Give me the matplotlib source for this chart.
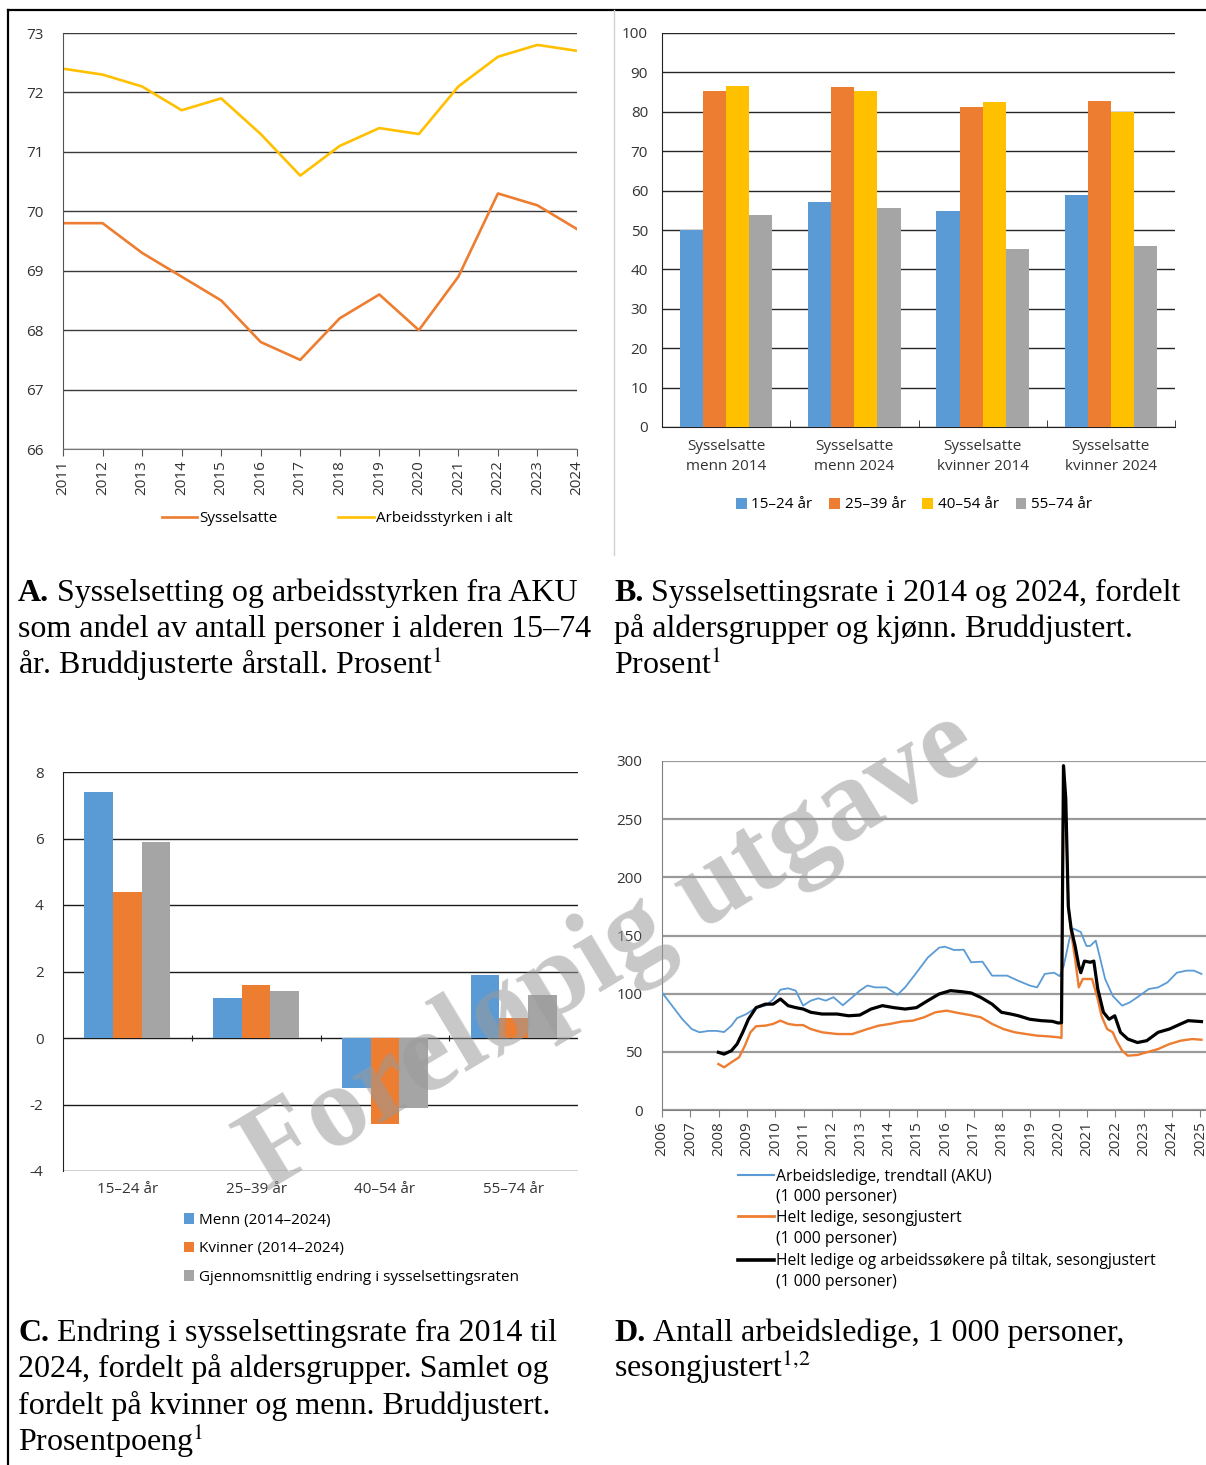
import matplotlib
matplotlib.use('Agg')
import matplotlib.pyplot as plt
from matplotlib.lines import Line2D
import numpy as np

W, H = 1206, 1465

# ---- panel A: andel av befolkningen 15-74 aar ----
years_a = list(range(2011, 2025))
sysselsatte = [69.8, 69.8, 69.3, 68.9, 68.5, 67.8, 67.5, 68.2, 68.6, 68.0, 68.9, 70.3, 70.1, 69.7]
arbeidsstyrken = [72.4, 72.3, 72.1, 71.7, 71.9, 71.3, 70.6, 71.1, 71.4, 71.3, 72.1, 72.6, 72.8, 72.7]

# ---- panel B: sysselsettingsrate etter alder ----
groups_b = ['Sysselsatte\nmenn 2014', 'Sysselsatte\nmenn 2024',
            'Sysselsatte\nkvinner 2014', 'Sysselsatte\nkvinner 2024']
age_groups = ['15–24 år', '25–39 år', '40–54 år', '55–74 år']
rate_15_24 = [50.0, 57.2, 54.7, 59.0]
rate_25_39 = [85.3, 86.4, 81.2, 82.8]
rate_40_54 = [86.6, 85.2, 82.6, 80.0]
rate_55_74 = [53.8, 55.6, 45.1, 45.9]

# ---- panel C: endring 2014-2024, prosentpoeng ----
endring_menn = [7.4, 1.2, -1.5, 1.9]
endring_kvinner = [4.4, 1.6, -2.6, 0.6]
endring_snitt = [5.9, 1.4, -2.1, 1.3]

# ---- panel D: arbeidsledige, 1 000 personer ----
aku_years = [2006.0, 2006.72, 2007.05, 2007.32, 2007.65, 2007.92, 2008.19, 2008.45, 2008.65, 2008.98,
             2009.32, 2009.65, 2009.92, 2010.18, 2010.45, 2010.72, 2010.98, 2011.25, 2011.52, 2011.78,
             2012.05, 2012.38, 2012.72, 2012.98, 2013.25, 2013.52, 2013.91, 2014.31, 2014.58, 2014.98,
             2015.38, 2015.78, 2015.98, 2016.31, 2016.65, 2016.91, 2017.31, 2017.65, 2018.18, 2018.58,
             2018.98, 2019.24, 2019.51, 2019.84, 2020.04, 2020.18, 2020.38, 2020.51, 2020.78, 2020.98,
             2021.11, 2021.31, 2021.44, 2021.64, 2021.91, 2022.24, 2022.51, 2022.84, 2023.18, 2023.51,
             2023.84, 2024.17, 2024.51, 2024.77, 2025.04]
aku_vals = [101, 78, 69.6, 66.8, 68, 68, 67, 72.5, 79, 82.5,
            88, 89.7, 95, 103.4, 104.6, 102.6, 89.7, 94, 96, 94,
            97, 90, 97, 102.6, 107, 105.4, 105.4, 99, 105.4, 118,
            131, 139.5, 140.4, 137.5, 137.8, 127, 127.5, 115.5, 115.5, 111,
            107, 105.4, 117, 118, 115, 124, 147, 156, 153, 141,
            141, 145.6, 132.7, 112.6, 98, 89.7, 92.5, 98, 104, 105.4,
            109.7, 118, 119.8, 119.8, 117]

helt_years = [2007.99, 2008.19, 2008.45, 2008.72, 2008.92, 2009.12, 2009.32, 2009.65, 2009.92, 2010.18,
              2010.45, 2010.72, 2010.98, 2011.25, 2011.65, 2012.18, 2012.72, 2013.25, 2013.65, 2014.05,
              2014.45, 2014.85, 2015.25, 2015.65, 2016.05, 2016.45, 2016.85, 2017.25, 2017.65, 2018.05,
              2018.45, 2018.85, 2019.24, 2019.64, 2019.98, 2020.1, 2020.17, 2020.25, 2020.34, 2020.44,
              2020.58, 2020.71, 2020.85, 2021.18, 2021.38, 2021.51, 2021.71, 2021.91, 2022.04, 2022.24,
              2022.44, 2022.78, 2023.11, 2023.51, 2023.91, 2024.31, 2024.71, 2025.04]
helt_vals = [39.5, 36.7, 41, 45.3, 55, 66.8, 72, 72.5, 74, 76.8,
             74, 73, 73, 69.6, 66.8, 65.3, 65.3, 69.6, 72.5, 74,
             76, 76.8, 79.7, 84, 85.4, 83.4, 81.7, 79.7, 74, 69.6,
             66.8, 65.3, 63.9, 63.3, 62.5, 62, 290, 262, 175, 152.7,
             130, 105.4, 112.6, 112.6, 95.4, 81, 69.6, 66.8, 59.6, 51,
             46.7, 47.3, 49.6, 52.4, 56.7, 59.6, 61, 60.4]

tiltak_years = [2007.99, 2008.19, 2008.45, 2008.65, 2008.85, 2009.05, 2009.32, 2009.65, 2009.92, 2010.18,
                2010.45, 2010.72, 2010.98, 2011.25, 2011.65, 2012.18, 2012.58, 2012.98, 2013.38, 2013.78,
                2014.18, 2014.58, 2014.98, 2015.38, 2015.78, 2016.18, 2016.58, 2016.91, 2017.25, 2017.65,
                2017.98, 2018.31, 2018.58, 2018.98, 2019.38, 2019.78, 2019.98, 2020.1, 2020.17, 2020.25,
                2020.34, 2020.44, 2020.58, 2020.71, 2020.78, 2020.91, 2021.11, 2021.24, 2021.38, 2021.58,
                2021.78, 2021.98, 2022.18, 2022.44, 2022.78, 2023.11, 2023.51, 2023.91, 2024.31, 2024.57,
                2025.04]
tiltak_vals = [49.6, 48, 51, 56.7, 66.8, 78, 88, 91, 91, 95.4,
               89.7, 88, 86.8, 84, 82.5, 82.5, 81, 81.6, 86.8, 89.7,
               88, 86.8, 88, 94, 99.7, 102.6, 101.7, 100.6, 96.8, 91,
               84, 82.5, 81, 78, 76.8, 76.2, 74.8, 75, 296, 268,
               175, 156, 141, 124, 118, 128, 127, 128, 104, 84,
               78, 81, 66.8, 61, 58, 59.6, 66.8, 69.6, 74, 76.8,
               76]

BLUE, ORANGE, YELLOW, GREY = '#5B9BD5', '#ED7D31', '#FFC000', '#A5A5A5'
TXT = '#333333'

plt.rcParams['font.family'] = ['Open Sans', 'DejaVu Sans']
plt.rcParams['font.size'] = 11
plt.rcParams['axes.unicode_minus'] = False
plt.rcParams['mathtext.fontset'] = 'stix'
plt.rcParams['xtick.color'] = TXT
plt.rcParams['ytick.color'] = TXT

fig = plt.figure(figsize=(W / 100, H / 100), dpi=100)


def box(x0, y0, x1, y1):
    return [x0 / W, 1 - y1 / H, (x1 - x0) / W, (y1 - y0) / H]


def figxy(x, y):
    return (x / W, 1 - y / H)


# ---------------- A ----------------
axA = fig.add_axes(box(63, 33, 577, 449))
axA.plot(years_a, sysselsatte, color=ORANGE, lw=1.9, label='Sysselsatte')
axA.plot(years_a, arbeidsstyrken, color=YELLOW, lw=1.9, label='Arbeidsstyrken i alt')
axA.set_xlim(2011, 2024)
axA.set_ylim(66, 73)
axA.set_yticks(range(66, 74))
axA.set_xticks(years_a)
axA.set_xticklabels([str(y) for y in years_a], rotation=90)
axA.yaxis.grid(True, color='#3a3a3a', lw=1.0)
axA.set_axisbelow(True)
for s in ['top', 'right']:
    axA.spines[s].set_visible(False)
axA.spines['left'].set_color('#555555')
axA.spines['bottom'].set_color('#777777')
axA.tick_params(axis='y', length=0, pad=14)
axA.tick_params(axis='x', length=5, color='#555555', pad=3)
axA.legend(loc='center', bbox_to_anchor=figxy(337, 519), bbox_transform=fig.transFigure,
           ncol=2, frameon=False, handlelength=2.3, handletextpad=0.15, columnspacing=4.0,
           fontsize=11)

# ---------------- B ----------------
axB = fig.add_axes(box(662, 33, 1175, 427))
xb = np.arange(len(groups_b))
bw = 0.18
for i, (vals, col, lab) in enumerate(zip([rate_15_24, rate_25_39, rate_40_54, rate_55_74],
                                          [BLUE, ORANGE, YELLOW, GREY], age_groups)):
    axB.bar(xb + (i - 1.5) * bw, vals, width=bw, color=col, label=lab, zorder=3)
axB.set_xlim(-0.5, 3.5)
axB.set_ylim(0, 100)
axB.set_yticks(range(0, 101, 10))
axB.set_xticks(xb)
axB.set_xticklabels(groups_b, linespacing=1.45)
axB.set_xticks(np.arange(-0.5, 4.0, 1.0), minor=True)
axB.yaxis.grid(True, color='#262626', lw=1.0)
axB.set_axisbelow(True)
for s in ['top', 'right']:
    axB.spines[s].set_visible(False)
axB.spines['left'].set_color('#222222')
axB.spines['bottom'].set_color('#222222')
axB.tick_params(axis='y', length=0, pad=10)
axB.tick_params(axis='x', which='major', length=0, pad=9)
axB.tick_params(axis='x', which='minor', length=5, direction='in', color='#222222')
axB.legend(loc='center', bbox_to_anchor=figxy(914, 505), bbox_transform=fig.transFigure,
           ncol=4, frameon=False, handlelength=0.7, handleheight=0.7, handletextpad=0.3,
           columnspacing=1.1, fontsize=11)

# ---------------- C ----------------
axC = fig.add_axes(box(63, 772, 578, 1171))
xc = np.arange(len(age_groups))
cw = 0.223
for i, (vals, col, lab) in enumerate(zip([endring_menn, endring_kvinner, endring_snitt],
                                          [BLUE, ORANGE, GREY],
                                          ['Menn (2014–2024)', 'Kvinner (2014–2024)',
                                           'Gjennomsnittlig endring i sysselsettingsraten'])):
    axC.bar(xc + (i - 1) * cw, vals, width=cw, color=col, label=lab, zorder=3)
axC.set_xlim(-0.5, 3.5)
axC.set_ylim(-4, 8)
axC.set_yticks(range(-4, 9, 2))
axC.set_xticks(xc)
axC.set_xticklabels(age_groups)
axC.yaxis.grid(True, color='#1a1a1a', lw=1.0)
axC.set_axisbelow(True)
for s in ['top', 'right', 'bottom']:
    axC.spines[s].set_visible(False)
axC.spines['left'].set_color('#222222')
axC.tick_params(axis='y', length=0, pad=14)
axC.tick_params(axis='x', length=0, pad=8)
secC = axC.secondary_xaxis(4 / 12)
secC.set_xticks(np.arange(0.5, 3.0, 1.0))
secC.set_xticklabels([])
secC.tick_params(length=5, direction='inout', color='#222222')
secC.spines['bottom'].set_visible(False)
axC.legend(loc='upper left', bbox_to_anchor=figxy(176, 1205), bbox_transform=fig.transFigure,
           ncol=1, frameon=False, handlelength=0.7, handleheight=0.7, handletextpad=0.3,
           labelspacing=0.9, fontsize=11, borderpad=0)

# ---------------- D ----------------
axD = fig.add_axes(box(662, 761, 1206, 1110))
axD.plot(aku_years, aku_vals, color=BLUE, lw=1.3, zorder=3)
axD.plot(helt_years, helt_vals, color=ORANGE, lw=1.7, zorder=4)
axD.plot(tiltak_years, tiltak_vals, color='black', lw=2.3, zorder=5)
axD.set_xlim(2006, 2025.2)
axD.set_ylim(0, 300)
axD.set_yticks(range(0, 301, 50))
years_d = list(range(2006, 2026))
axD.set_xticks(years_d)
axD.set_xticklabels([str(y) for y in years_d], rotation=90)
axD.yaxis.grid(True, color='#9a9a9a', lw=1.6)
axD.set_axisbelow(True)
for s in ['top', 'right']:
    axD.spines[s].set_visible(False)
axD.spines['left'].set_color('#808080')
axD.spines['bottom'].set_color('#808080')
axD.tick_params(axis='y', length=0, pad=14)
axD.tick_params(axis='x', length=5, color='#808080', pad=3)
hD = [Line2D([], [], color=BLUE, lw=1.5), Line2D([], [], color='none'),
      Line2D([], [], color=ORANGE, lw=2), Line2D([], [], color='none'),
      Line2D([], [], color='black', lw=2.6), Line2D([], [], color='none')]
lD = ['Arbeidsledige, trendtall (AKU)', '(1 000 personer)',
      'Helt ledige, sesongjustert', '(1 000 personer)',
      'Helt ledige og arbeidssøkere på tiltak, sesongjustert', '(1 000 personer)']
axD.legend(hD, lD, loc='upper left', bbox_to_anchor=figxy(730, 1161), bbox_transform=fig.transFigure,
           frameon=False, handlelength=2.3, handletextpad=0.1, labelspacing=0.29,
           fontsize=11.3, borderpad=0)

# ---------------- captions ----------------
cap_kw = dict(family=['Liberation Serif', 'DejaVu Serif'], fontsize=23, color='black', va='baseline')
renderer = fig.canvas.get_renderer()


def caption(x, y, tag, lines, gap=36.5):
    t = fig.text(*figxy(x, y), tag, fontweight='bold', **cap_kw)
    wpx = t.get_window_extent(renderer).width
    fig.text(*figxy(x + wpx + 8, y), lines[0], **cap_kw)
    for k, ln in enumerate(lines[1:], start=1):
        fig.text(*figxy(x, y + k * gap), ln, **cap_kw)


caption(18, 601, 'A.', ['Sysselsetting og arbeidsstyrken fra AKU',
                        'som andel av antall personer i alderen 15–74',
                        'år. Bruddjusterte årstall. Prosent$^1$'])
caption(614, 601, 'B.', ['Sysselsettingsrate i 2014 og 2024, fordelt',
                         'på aldersgrupper og kjønn. Bruddjustert.',
                         'Prosent$^1$'])
caption(18, 1341, 'C.', ['Endring i sysselsettingsrate fra 2014 til',
                         '2024, fordelt på aldersgrupper. Samlet og',
                         'fordelt på kvinner og menn. Bruddjustert.',
                         'Prosentpoeng$^1$'])
caption(614, 1341, 'D.', ['Antall arbeidsledige, 1 000 personer,',
                          'sesongjustert$^{1{,}2}$'])

# ---------------- frame lines ----------------
fig.add_artist(Line2D([8 / W, 1], [1 - 10 / H, 1 - 10 / H], color='black', lw=1.6,
                      transform=fig.transFigure))
fig.add_artist(Line2D([8 / W, 8 / W], [0, 1 - 10 / H], color='black', lw=1.6,
                      transform=fig.transFigure))
fig.add_artist(Line2D([614 / W, 614 / W], [1 - 555 / H, 1 - 10 / H], color='#d0d0d0', lw=1.0,
                      transform=fig.transFigure))

# ---------------- watermark ----------------
fig.text(*figxy(611, 953), 'Foreløpig utgave', rotation=31, ha='center', va='center',
         fontsize=84, fontweight='bold', family=['Liberation Serif', 'DejaVu Serif'],
         color='#9a9a9a', alpha=0.55, zorder=100)

fig.savefig('out.png', dpi=100)
